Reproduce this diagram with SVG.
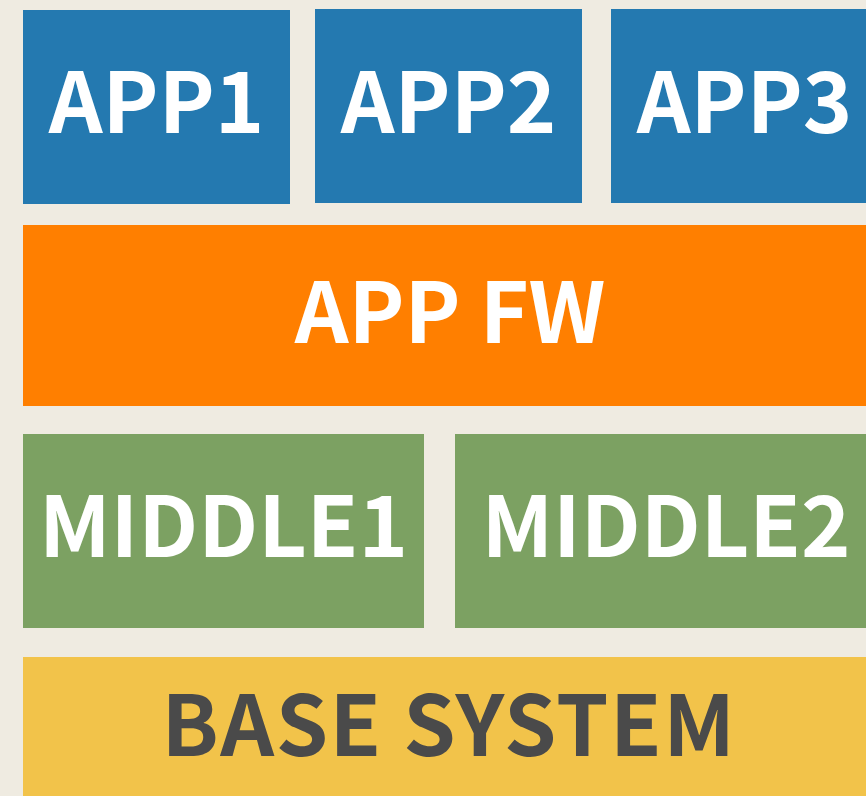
<svg xmlns="http://www.w3.org/2000/svg" width="866" height="796" viewBox="0 0 866 796">
<style>
.lbl{font-family:"Noto Sans CJK JP","Noto Sans",sans-serif;font-size:84px;text-anchor:middle;fill:#ffffff;font-weight:700}
.app{fill:#2479b0}
.fw{fill:#ff7f00}
.mid{fill:#7ca162}
.base{fill:#f2c34a}
.dark{fill:#4a4a4a;letter-spacing:1.5px}
</style>
<rect width="866" height="796" fill="#efebe1"/>
<g id="app1"><rect class="app" x="23" y="10" width="267" height="194"/><text class="lbl" x="156.5" y="133">APP1</text></g>
<g id="app2"><rect class="app" x="315" y="9" width="267" height="194"/><text class="lbl" x="448.5" y="133">APP2</text></g>
<g id="app3"><rect class="app" x="611" y="9" width="267" height="194"/><text class="lbl" x="744.5" y="133">APP3</text></g>
<g id="appfw"><rect class="fw" x="23" y="225" width="854" height="181"/><text class="lbl" x="450" y="343">APP FW</text></g>
<g id="middle1"><rect class="mid" x="23" y="434" width="401" height="194"/><text class="lbl" x="223.5" y="557">MIDDLE1</text></g>
<g id="middle2"><rect class="mid" x="455" y="434" width="422" height="194"/><text class="lbl" x="666" y="557">MIDDLE2</text></g>
<g id="base"><rect class="base" x="23" y="657" width="854" height="145"/><text class="lbl dark" x="449" y="756">BASE SYSTEM</text></g>
<g id="connectors"/>
</svg>
